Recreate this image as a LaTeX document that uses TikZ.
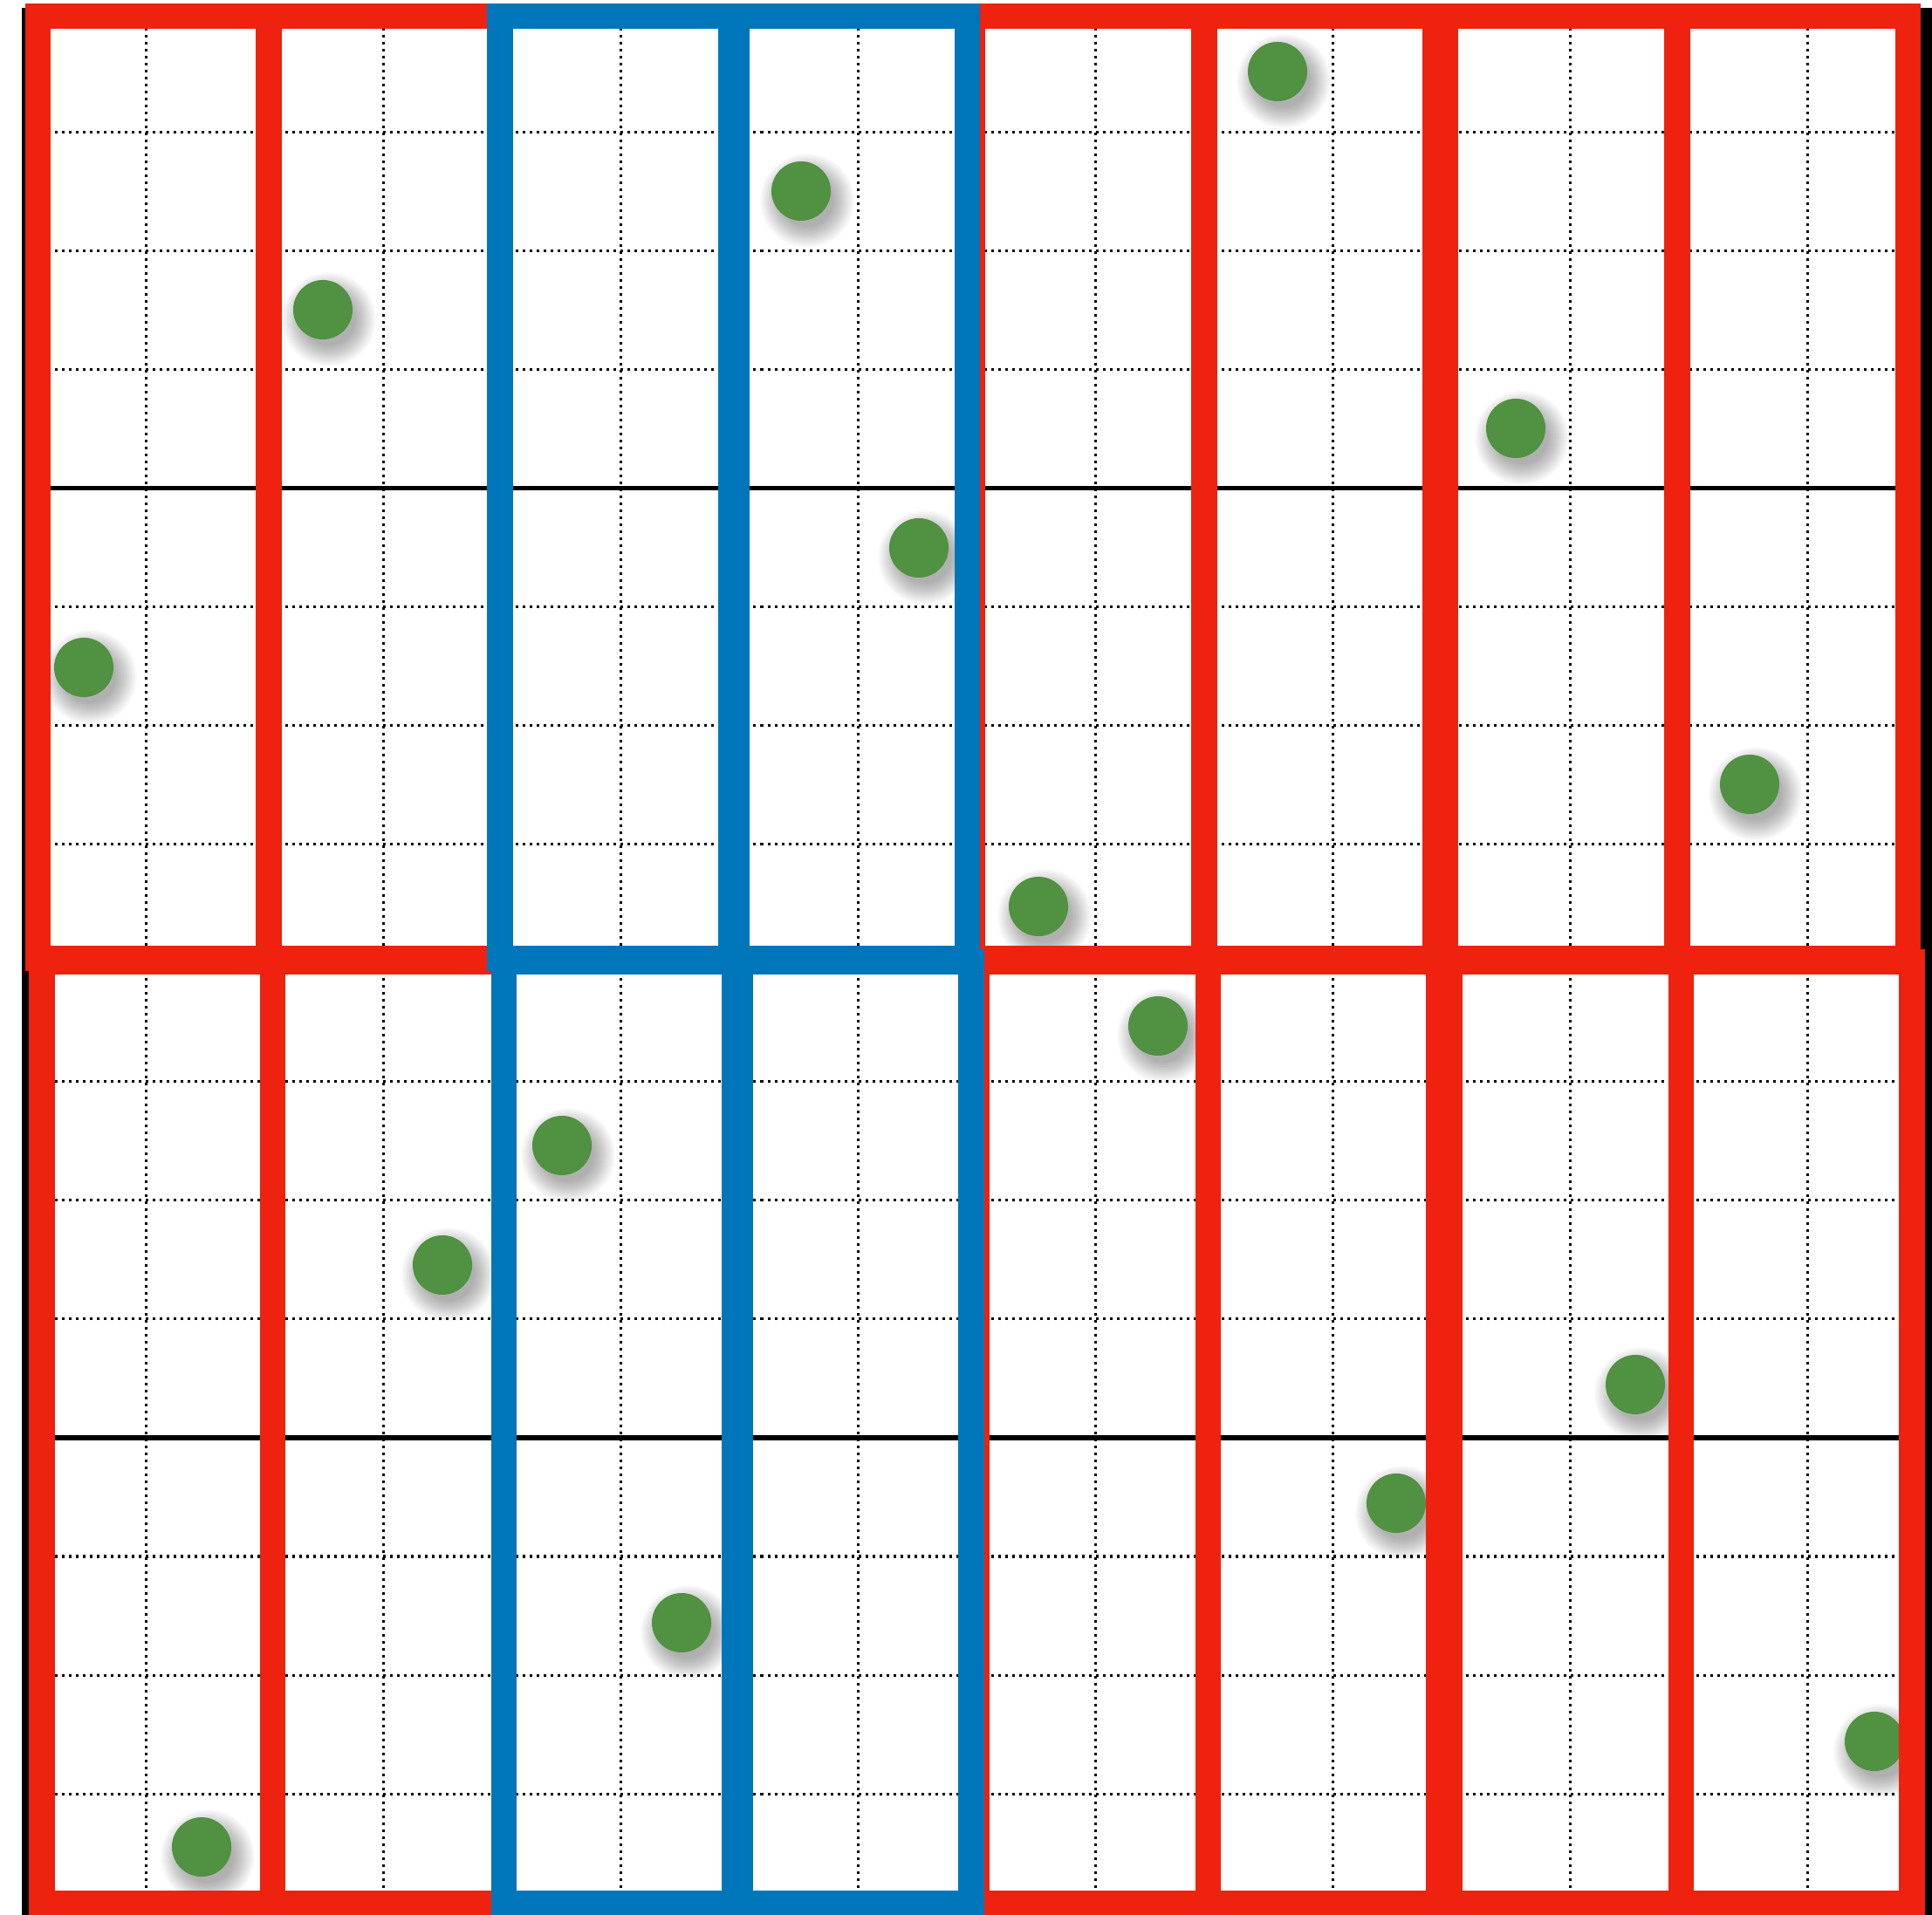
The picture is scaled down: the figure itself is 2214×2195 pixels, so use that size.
\documentclass[tikz,border=0pt]{standalone}
\definecolor{kred}{RGB}{238,34,14}
\definecolor{kblue}{RGB}{0,118,186}
\definecolor{kgreen}{RGB}{80,145,66}
\begin{document}
\begin{tikzpicture}[x=0.01cm,y=-0.01cm,
  gridline/.style={line width=0.03cm, dash pattern=on 0.03cm off 0.05cm},
  axisline/.style={line width=0.05cm},
  redbox/.style={draw=kred, line width=0.295cm},
  bluebox/.style={draw=kblue, line width=0.295cm},
  greendot/.style={circle, fill=kgreen, inner sep=0pt, minimum size=0.68cm},
  shadowlayer/.style={fill=black, opacity=0.02},
]
\useasboundingbox (0,0) rectangle (2214,2195);
\fill[white] (0,0) rectangle (2214,2195);
% dotted grid
\foreach \k in {0,...,16}{
  \draw[gridline] (31+136*\k,16) -- (31+136*\k,2192);
  \draw[gridline] (31,16+136*\k) -- (2207,16+136*\k);
}
% solid black lines
\draw[axisline] (31,560) -- (2207,560);
\draw[axisline] (31,1648) -- (2207,1648);
\fill[black] (24.5,9) rectangle (33.5,2195);
\fill[black] (2201,9) rectangle (2214,2195);
% dots with shadows
\foreach \n/\px/\py in {1/96/765, 2/370/355, 3/918/219, 4/1053/628, 5/1190/1039, 6/1464/82, 7/1737/491, 8/2005/899, 9/1327/1176, 10/644/1313, 11/507/1450, 12/1874/1587, 13/1600/1723, 14/781/1860, 15/231/2117, 16/2148/1996}{
  \foreach \r in {0.30,0.315,...,0.54}{
    \fill[shadowlayer] (\px+7,\py+11) circle (\r cm);
  }
  \node[greendot] (p\n) at (\px,\py) {};
}
% top half boxes
\foreach \a/\b in {43.5/308, 308/573, 1114.5/1380, 1380/1644.5, 1656.5/1922, 1922/2186.5}{
  \draw[redbox] (\a,18.5) rectangle (\b,1098.5);
}
% bottom half boxes
\foreach \a/\b in {48/312.5, 312.5/577.5, 1119/1384.5, 1384.5/1649, 1661/1926.5, 1926.5/2191}{
  \draw[redbox] (\a,1102.5) rectangle (\b,2181.5);
}
\foreach \a/\b in {573/837.5, 844/1108.5}{
  \draw[bluebox] (\a,18.5) rectangle (\b,1098.5);
}
\foreach \a/\b in {577.5/842, 848.5/1113}{
  \draw[bluebox] (\a,1102.5) rectangle (\b,2181.5);
}
\end{tikzpicture}
\end{document}
